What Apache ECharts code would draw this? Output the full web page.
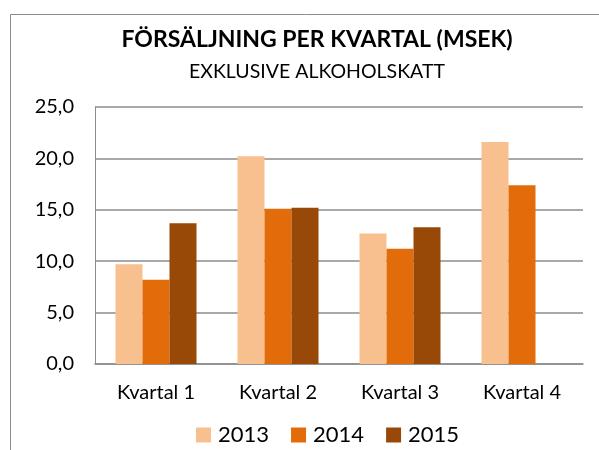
<!DOCTYPE html>
<html><head><meta charset="utf-8">
<script src="https://cdn.jsdelivr.net/npm/echarts@6/dist/echarts.min.js"></script>
<style>html,body{margin:0;padding:0;background:#fff}#c{width:599px;height:450px}</style>
</head><body><div id="c"></div>
<script>
const categories = ['Kvartal 1', 'Kvartal 2', 'Kvartal 3', 'Kvartal 4'];
const seriesNames = ['2013', '2014', '2015'];
const v2013 = [9.7, 20.2, 12.7, 21.6];
const v2014 = [8.2, 15.1, 11.2, 17.4];
const v2015 = [13.7, 15.2, 13.3, null];
const colors = ['#F9C08F', '#E36C0A', '#984807'];
const FONT = 'Lato, "Open Sans", sans-serif';

const chart = echarts.init(document.getElementById('c'), null, {renderer: 'canvas'});
const data = [v2013, v2014, v2015];
chart.setOption({
  animation: false,
  color: colors,
  graphic: [{
    type: 'rect', left: 8, top: 12, shape: {x: 0, y: 0, width: 700, height: 500},
    style: {fill: 'none', stroke: '#8c8c8c', lineWidth: 1}, silent: true
  }],
  title: [{
    text: 'FÖRSÄLJNING PER KVARTAL (MSEK)',
    left: 312, top: 23, textAlign: 'center',
    textStyle: {fontFamily: FONT, fontWeight: 'bold', fontSize: 23, color: '#000'}
  }, {
    text: 'EXKLUSIVE ALKOHOLSKATT',
    left: 312, top: 57, textAlign: 'center',
    textStyle: {fontFamily: FONT, fontWeight: 'normal', fontSize: 19.5, color: '#000'}
  }],
  legend: {
    data: seriesNames, bottom: -1, left: 191,
    itemWidth: 15, itemHeight: 15, itemGap: 22, icon: 'rect',
    textStyle: {fontFamily: FONT, fontSize: 22, color: '#000', padding: [0,0,0,2]}
  },
  grid: {left: 95, right: 16, top: 107, bottom: 86, containLabel: false},
  xAxis: {
    type: 'category', data: categories,
    axisLine: {lineStyle: {color: '#8c8c8c', width: 1.5}},
    axisTick: {show: false},
    axisLabel: {fontFamily: FONT, fontSize: 20, color: '#000', margin: 19}
  },
  yAxis: {
    type: 'value', min: 0, max: 25, interval: 5,
    axisLine: {show: true, lineStyle: {color: '#8c8c8c', width: 1}},
    axisTick: {show: false},
    splitLine: {lineStyle: {color: '#8c8c8c', width: 1.5}},
    axisLabel: {fontFamily: FONT, fontSize: 20, color: '#000', margin: 21,
      formatter: v => v.toFixed(1).replace('.', ',')}
  },
  series: seriesNames.map((n, i) => ({
    name: n, type: 'bar', data: data[i],
    barGap: '0%', barCategoryGap: '33.6%',
    itemStyle: {color: colors[i]}
  }))
});
</script></body></html>
